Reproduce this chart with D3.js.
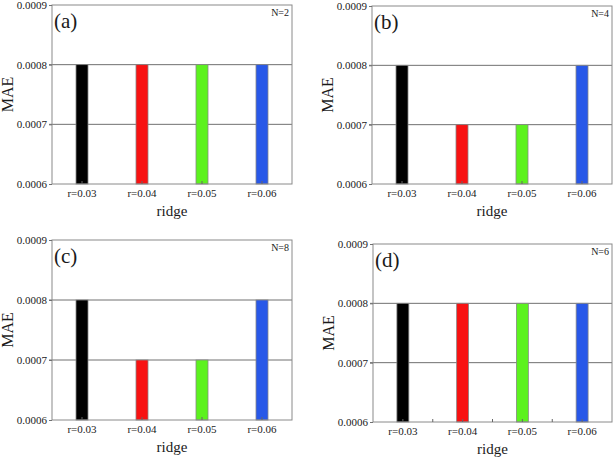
<!DOCTYPE html>
<html><head><meta charset="utf-8">
<script src="https://cdn.jsdelivr.net/npm/d3@7"></script>
<style>body{margin:0;background:#fff}svg{display:block}svg text{font-family:"Liberation Serif","Times New Roman","DejaVu Serif",serif !important;fill:#1a1a1a}</style>
</head><body>
<script>
const categories = ["r=0.03","r=0.04","r=0.05","r=0.06"];
const panelLetters = ["(a)","(b)","(c)","(d)"];
const nLabels = ["N=2","N=4","N=8","N=6"];
const valuesA = [0.0008,0.0008,0.0008,0.0008];
const valuesB = [0.0008,0.0007,0.0007,0.0008];
const valuesC = [0.0008,0.0007,0.0007,0.0008];
const valuesD = [0.0008,0.0008,0.0008,0.0008];
const yTicks = [0.0006,0.0007,0.0008,0.0009];
const gridTicks = [0.0007,0.0008];
const barColors = ["#000000","#f81212","#5cf21e","#2858e8"];

const frames = [
  {x0:52,x1:292,y0:5,y1:184,vals:valuesA,bTicks:false},
  {x0:372,x1:612,y0:6,y1:184,vals:valuesB,bTicks:false},
  {x0:52,x1:292,y0:240,y1:420,vals:valuesC,bTicks:false},
  {x0:373,x1:612,y0:244,y1:422,vals:valuesD,bTicks:true}
];

const svg = d3.select("body").append("svg").attr("width",614).attr("height",460)
  .attr("font-family","Liberation Serif");

frames.forEach((f,i)=>{
  const g = svg.append("g");
  const x = d3.scaleBand().domain(categories).range([f.x0,f.x1]).paddingInner(0.8).paddingOuter(0.4);
  const y = d3.scaleLinear().domain([0.0006,0.0009]).range([f.y1,f.y0]);
  g.selectAll("line.grid").data(gridTicks).join("line")
    .attr("x1",f.x0-3).attr("x2",f.x1).attr("y1",d=>y(d)).attr("y2",d=>y(d))
    .attr("stroke","#707070").attr("stroke-width",1);
  g.selectAll("rect.bar").data(f.vals).join("rect")
    .attr("x",(d,j)=>x(categories[j])).attr("width",x.bandwidth())
    .attr("y",d=>y(d)).attr("height",d=>y(0.0006)-y(d))
    .attr("fill",(d,j)=>barColors[j]).attr("stroke","#888").attr("stroke-width",0.8);
  g.append("rect").attr("x",f.x0).attr("y",f.y0).attr("width",f.x1-f.x0).attr("height",f.y1-f.y0)
    .attr("fill","none").attr("stroke","#8a8a8a").attr("stroke-width",1);
  const ya = d3.axisLeft(y).tickValues(yTicks).tickFormat(d3.format(".4f")).tickSize(3).tickPadding(2);
  const yg = g.append("g").attr("transform",`translate(${f.x0},0)`).call(ya).attr("font-family",null);
  yg.select(".domain").remove();
  yg.selectAll(".tick line").attr("stroke","#707070");
  yg.selectAll("text").attr("font-size",11);
  const xa = d3.axisBottom(x).tickSize(-3).tickPadding(5);
  const xg = g.append("g").attr("transform",`translate(0,${f.y1})`).call(xa).attr("font-family",null);
  xg.select(".domain").remove();
  xg.selectAll(".tick line").attr("stroke","#666");
  xg.selectAll("text").attr("font-size",11);
  if(f.bTicks){
    const step = x.step();
    g.selectAll("line.mb").data(categories.slice(0,3)).join("line")
      .attr("x1",d=>x(d)+x.bandwidth()/2+step/2).attr("x2",d=>x(d)+x.bandwidth()/2+step/2)
      .attr("y1",f.y1).attr("y2",f.y1-3).attr("stroke","#666");
  }
  g.append("text").attr("x",(f.x0+f.x1)/2).attr("y",f.y1+32).attr("text-anchor","middle")
    .attr("font-size",15).text("ridge");
  g.append("text").attr("transform",`translate(${f.x0-39},${(f.y0+f.y1)/2}) rotate(-90)`)
    .attr("text-anchor","middle").attr("font-size",16).text("MAE");
  g.append("text").attr("x",f.x0+2).attr("y",f.y0+23).attr("font-size",21).text(panelLetters[i]);
  g.append("text").attr("x",f.x1-3).attr("y",f.y0+11).attr("text-anchor","end").attr("font-size",10).text(nLabels[i]);
});
</script>
</body></html>
